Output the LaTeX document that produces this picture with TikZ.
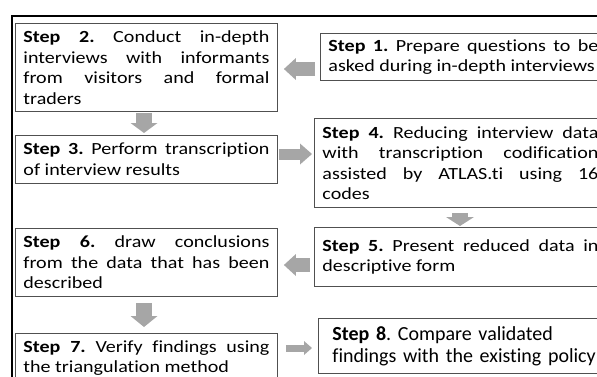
\documentclass[tikz,border=0pt]{standalone}
\usepackage{fontspec}
\setmainfont{Carlito}[FakeStretch=1.18,Ligatures=NoCommon]
\newfontfamily\plainfont{Carlito}[Ligatures=NoCommon]
\usetikzlibrary{arrows.meta,calc}
\definecolor{boxgray}{RGB}{80,80,80}
\definecolor{arrgray}{RGB}{166,166,166}
\hyphenpenalty=10000
\exhyphenpenalty=10000
\frenchspacing
\begin{document}
\begin{tikzpicture}[x=1pt,y=-1pt,
  box/.style={draw=boxgray, line width=0.9pt, rectangle, inner xsep=8pt, inner ysep=1pt,
    align=justify, anchor=north west,
    font=\fontsize{17}{20.5}\selectfont},
  lbox/.style={box, minimum width=262pt, text width=246pt},
  rbox/.style={box, minimum width=292pt, text width=276pt},
  fat/.style={draw=arrgray, line width=#1, line cap=butt},
]
\useasboundingbox (0,0) rectangle (597,376);
\clip (0,0) rectangle (597,376);
% outer frame
\draw[line width=1.8pt, black] (12,16) rectangle (620,400);
% boxes
\node[lbox, minimum height=88pt] (b2) at (15,23)
  {\textbf{Step 2.} Conduct in-depth\linebreak interviews with informants\linebreak from visitors and formal\linebreak traders};
\node[box, minimum width=286pt, text width=270pt, minimum height=47pt] (b1) at (320,33)
  {\textbf{Step 1.} Prepare questions to be\linebreak asked during in-depth interviews};
\node[lbox, minimum height=48pt] (b3) at (15,135)
  {\textbf{Step 3.} Perform transcription\linebreak of interview results};
\node[rbox, minimum height=89pt] (b4) at (314,118)
  {\textbf{Step 4.} Reducing interview data\linebreak with transcription codification\linebreak assisted by ATLAS.ti using 16\linebreak codes};
\node[rbox, minimum height=59pt] (b5) at (314,227)
  {\textbf{Step 5.} Present reduced data in\linebreak descriptive form};
\node[lbox, minimum height=68pt] (b6) at (15,228)
  {\textbf{Step 6.} draw conclusions\linebreak from the data that has been\linebreak described};
\node[lbox, minimum height=49pt] (b7) at (15,333)
  {\textbf{Step 7.} Verify findings using\linebreak the triangulation method};
\node[box, minimum width=312pt, text width=284pt, inner xsep=14pt, minimum height=55pt, align=left,
  font=\plainfont\fontsize{20}{22}\selectfont] (b8) at (318,318)
  {\textbf{Step 8}. Compare validated\\ findings with the existing policy};
% fat arrows
\draw[fat=14pt, -{Triangle[length=12pt,width=22pt,line width=0pt]}, shorten <=5pt, shorten >=6pt]
  (b1.west |- 0,69) -- (b2.east |- 0,69);
\draw[fat=16pt, -{Triangle[length=10pt,width=27pt,line width=0pt]}, shorten <=1pt, shorten >=2pt]
  (b2.south -| 144,0) -- (b3.north -| 144,0);
\draw[fat=11pt, -{Triangle[length=12pt,width=21pt,line width=0pt]}, shorten <=1pt, shorten >=2pt]
  (b3.east |- 0,154) -- (b4.west |- 0,154);
\draw[fat=16pt, -{Triangle[length=9pt,width=28pt,line width=0pt]}, shorten <=5pt, shorten >=1pt]
  (b4.south -| 460,0) -- (b5.north -| 460,0);
\draw[fat=14pt, -{Triangle[length=12pt,width=22pt,line width=0pt]}, shorten <=4pt, shorten >=6pt]
  (b5.west |- 0,265) -- (b6.east |- 0,265);
\draw[fat=16pt, -{Triangle[length=11pt,width=27pt,line width=0pt]}, shorten <=6pt, shorten >=6pt]
  (b6.south -| 144,0) -- (b7.north -| 144,0);
\draw[fat=7pt, -{Triangle[length=8pt,width=14pt,line width=0pt]}, shorten <=8pt, shorten >=6pt]
  (b7.east |- 0,348) -- (b8.west |- 0,348);
\end{tikzpicture}
\end{document}
